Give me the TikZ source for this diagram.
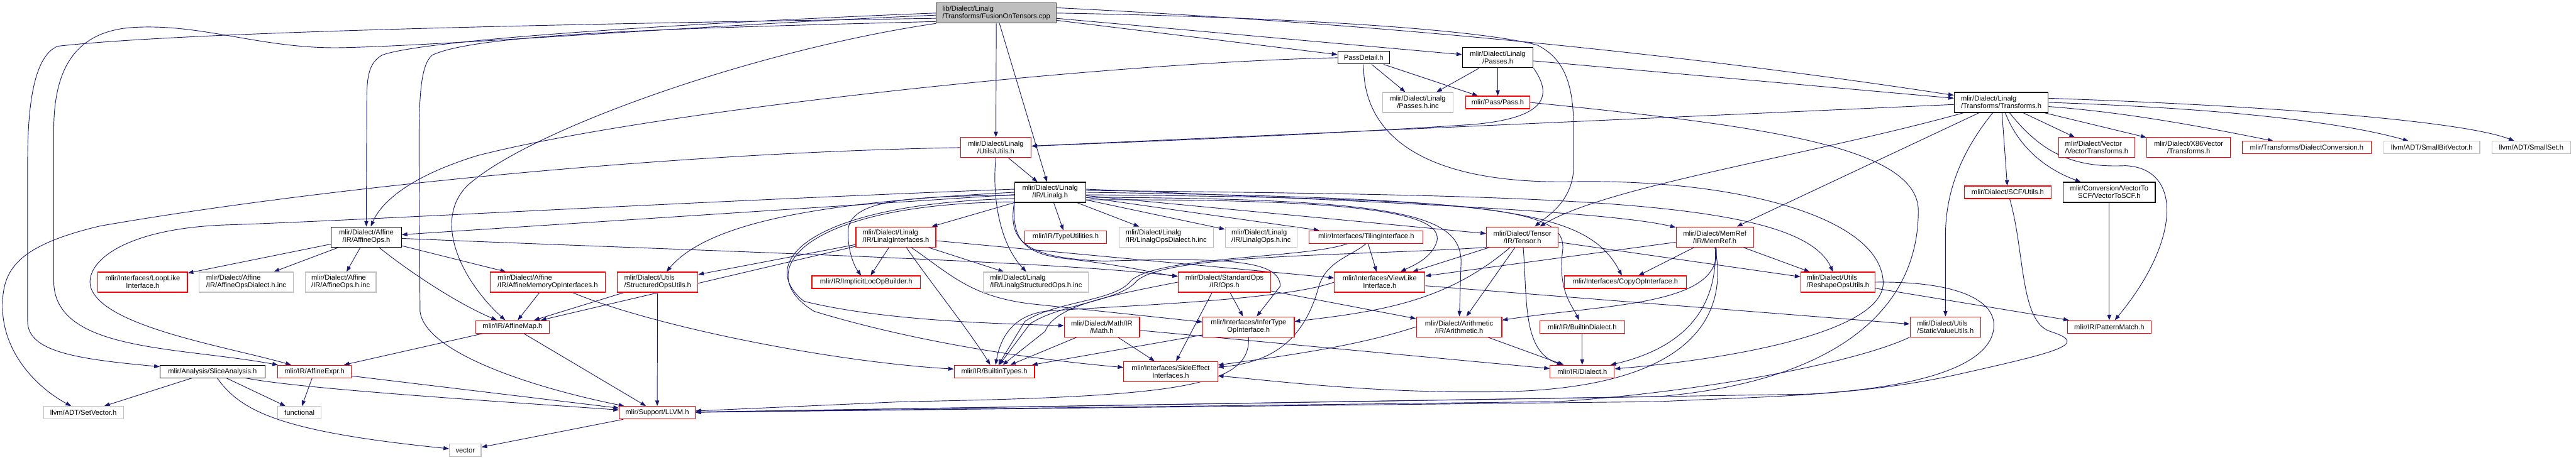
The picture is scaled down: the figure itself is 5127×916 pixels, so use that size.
\documentclass[tikz,border=0pt]{standalone}
\usepackage{fontspec}
\setmainfont{Liberation Sans}
\usetikzlibrary{arrows.meta}

\definecolor{edgeblue}{RGB}{25,25,112}
\definecolor{boxgrey}{RGB}{191,191,191}
\pgfdeclarelayer{edges}
\pgfsetlayers{edges,main}

\begin{document}
\begin{tikzpicture}[
        x=1pt, y=-1pt,
        font=\fontsize{14}{15}\selectfont,
        file/.style={
            draw,
            line width=1.4pt,
            fill=white,
            inner sep=0pt,
            align=center
        },
        redfile/.style={file, draw=red},
        greyfile/.style={file, draw=boxgrey},
        blackfile/.style={file, draw=black},
        rootfile/.style={file, draw=black!75, fill=boxgrey},
        one/.style={minimum height=25pt},
        two/.style={minimum height=40pt},
        lft/.style={align=left},
        incl/.style={draw=edgeblue, line width=1.15pt, -{Triangle[length=11pt,width=8pt]}}
    ]
    \useasboundingbox (0,0) rectangle (5127,916);

    % source file
    \node[rootfile, two, lft, minimum width=239pt] (rt) at (1983,26) {lib/Dialect/Linalg\\/Transforms/FusionOnTensors.cpp};

    % pass headers
    \node[blackfile, one, minimum width=103pt] (pd) at (2714,115) {PassDetail.h};
    \node[blackfile, two, minimum width=141pt] (ps) at (2981,115) {mlir/Dialect/Linalg\\/Passes.h};
    \node[greyfile, two, minimum width=141pt] (pi) at (2822,204) {mlir/Dialect/Linalg\\/Passes.h.inc};
    \node[redfile, one, minimum width=127pt] (pa) at (2981,204) {mlir/Pass/Pass.h};
    \node[blackfile, two, lft, minimum width=187pt] (tr) at (3983,204) {mlir/Dialect/Linalg\\/Transforms/Transforms.h};

    % transforms level
    \node[redfile, two, minimum width=141pt] (lu) at (1982,294) {mlir/Dialect/Linalg\\/Utils/Utils.h};
    \node[redfile, two, lft, minimum width=151pt] (vt) at (4173,294) {mlir/Dialect/Vector\\/VectorTransforms.h};
    \node[redfile, two, minimum width=167pt] (xv) at (4356,294) {mlir/Dialect/X86Vector\\/Transforms.h};
    \node[redfile, one, minimum width=257pt] (dc) at (4591,294) {mlir/Transforms/DialectConversion.h};
    \node[greyfile, one, minimum width=191pt] (sbv) at (4840,294) {llvm/ADT/SmallBitVector.h};
    \node[greyfile, one, minimum width=156pt] (ss) at (5038,294) {llvm/ADT/SmallSet.h};

    \node[blackfile, two, minimum width=141pt] (li) at (2090,383) {mlir/Dialect/Linalg\\/IR/Linalg.h};
    \node[redfile, one, minimum width=172pt] (scf) at (3996,383) {mlir/Dialect/SCF/Utils.h};
    \node[blackfile, two, minimum width=183pt] (v2s) at (4198,383) {mlir/Conversion/VectorTo\\SCF/VectorToSCF.h};

    % dialect level
    \node[blackfile, two, minimum width=140pt] (ao) at (729,472) {mlir/Dialect/Affine\\/IR/AffineOps.h};
    \node[redfile, two, lft, minimum width=159pt] (lif) at (1783,472) {mlir/Dialect/Linalg\\/IR/LinalgInterfaces.h};
    \node[redfile, one, minimum width=162pt] (tu) at (2121,472) {mlir/IR/TypeUtilities.h};
    \node[greyfile, two, lft, minimum width=188pt] (lodi) at (2321,472) {mlir/Dialect/Linalg\\/IR/LinalgOpsDialect.h.inc};
    \node[greyfile, two, lft, minimum width=143pt] (loi) at (2510,472) {mlir/Dialect/Linalg\\/IR/LinalgOps.h.inc};
    \node[redfile, one, minimum width=227pt] (ti) at (2719,472) {mlir/Interfaces/TilingInterface.h};
    \node[redfile, two, minimum width=143pt] (te) at (3030,472) {mlir/Dialect/Tensor\\/IR/Tensor.h};
    \node[redfile, two, minimum width=154pt] (mr) at (3413,472) {mlir/Dialect/MemRef\\/IR/MemRef.h};

    \node[redfile, two, minimum width=178pt] (ll) at (284,562) {mlir/Interfaces/LoopLike\\Interface.h};
    \node[greyfile, two, lft, minimum width=187pt] (aodi) at (490,562) {mlir/Dialect/Affine\\/IR/AffineOpsDialect.h.inc};
    \node[greyfile, two, lft, minimum width=141pt] (aoi) at (678,562) {mlir/Dialect/Affine\\/IR/AffineOps.h.inc};
    \node[redfile, two, lft, minimum width=229pt] (amoi) at (1090,562) {mlir/Dialect/Affine\\/IR/AffineMemoryOpInterfaces.h};
    \node[redfile, two, lft, minimum width=160pt] (sou) at (1309,562) {mlir/Dialect/Utils\\/StructuredOpsUtils.h};
    \node[redfile, one, minimum width=216pt] (ie) at (1724,562) {mlir/IR/ImplicitLocOpBuilder.h};
    \node[greyfile, two, lft, minimum width=209pt] (lsi) at (2062,562) {mlir/Dialect/Linalg\\/IR/LinalgStructuredOps.h.inc};
    \node[redfile, two, minimum width=184pt] (so) at (2437,562) {mlir/Dialect/StandardOps\\/IR/Ops.h};
    \node[redfile, two, minimum width=180pt] (vl) at (2746,562) {mlir/Interfaces/ViewLike\\Interface.h};
    \node[redfile, one, minimum width=243pt] (co) at (3235,562) {mlir/Interfaces/CopyOpInterface.h};
    \node[redfile, two, lft, minimum width=148pt] (rs) at (3658,562) {mlir/Dialect/Utils\\/ReshapeOpsUtils.h};

    % IR level
    \node[redfile, one, minimum width=146pt] (am) at (1020,651) {mlir/IR/AffineMap.h};
    \node[redfile, two, minimum width=150pt] (mt) at (2193,651) {mlir/Dialect/Math/IR\\/Math.h};
    \node[redfile, two, minimum width=182pt] (it) at (2485,651) {mlir/Interfaces/InferType\\OpInterface.h};
    \node[redfile, two, minimum width=170pt] (ar) at (2904,651) {mlir/Dialect/Arithmetic\\/IR/Arithmetic.h};
    \node[redfile, one, minimum width=169pt] (bd) at (3149,651) {mlir/IR/BuiltinDialect.h};
    \node[redfile, two, lft, minimum width=141pt] (sv) at (3872,651) {mlir/Dialect/Utils\\/StaticValueUtils.h};
    \node[redfile, one, minimum width=167pt] (pm) at (4198,651) {mlir/IR/PatternMatch.h};

    \node[blackfile, one, minimum width=209pt] (sa) at (423,740) {mlir/Analysis/SliceAnalysis.h};
    \node[redfile, one, minimum width=147pt] (ae) at (626,740) {mlir/IR/AffineExpr.h};
    \node[redfile, one, minimum width=160pt] (bt) at (1979,740) {mlir/IR/BuiltinTypes.h};
    \node[redfile, two, minimum width=187pt] (se) at (2330,740) {mlir/Interfaces/SideEffect\\Interfaces.h};
    \node[redfile, one, minimum width=128pt] (dl) at (3149,740) {mlir/IR/Dialect.h};

    % leaves
    \node[greyfile, one, minimum width=159pt] (svec) at (166,822) {llvm/ADT/SetVector.h};
    \node[greyfile, one, minimum width=86pt] (fn) at (596,822) {functional};
    \node[redfile, one, minimum width=151pt] (lv) at (1308,822) {mlir/Support/LLVM.h};
    \node[greyfile, one, minimum width=63pt] (vec) at (926,897) {vector};

    \begin{pgfonlayer}{edges}
    % FusionOnTensors.cpp
    \draw[incl] (rt) -- (pd);
    \draw[incl] (rt) -- (ps);
    \draw[incl] (rt.5) .. controls (2700,45) and (3300,100) .. (tr);
    \draw[incl] (rt.east) .. controls (2600,35) and (2950,60) .. (3060,90)
        .. controls (3120,120) and (3132,180) .. (3132,260) -- (3132,330)
        .. controls (3132,400) and (3080,430) .. (te);
    \draw[incl] (rt) -- (lu);
    \draw[incl] (rt) -- (li);
    \draw[incl] (rt.west) .. controls (1500,40) and (850,75) .. (760,110)
        .. controls (735,125) and (730,150) .. (730,200) -- (ao);
    \draw[incl] (rt.182) .. controls (1400,50) and (900,90) .. (680,95)
        .. controls (520,98) and (400,45) .. (260,55)
        .. controls (140,65) and (107,150) .. (107,260) -- (107,560)
        .. controls (107,700) and (350,690) .. (ae);
    \draw[incl] (rt.185) .. controls (1300,45) and (400,60) .. (115,92)
        .. controls (70,110) and (55,200) .. (55,320) -- (55,640)
        .. controls (55,700) and (150,715) .. (sa);
    \draw[incl] (rt.south west) .. controls (1500,100) and (1050,260) .. (930,370)
        .. controls (860,440) and (920,560) .. (am);
    \draw[incl] (rt.188) .. controls (1400,55) and (950,65) .. (860,110)
        .. controls (836,130) and (834,200) .. (834,300) -- (836,620)
        .. controls (845,700) and (1050,770) .. (lv);

    % PassDetail.h and Passes.h
    \draw[incl] (pd) -- (pi);
    \draw[incl] (pd) -- (pa);
    \draw[incl] (pd.west) .. controls (2200,125) and (1300,220) .. (950,310)
        .. controls (820,350) and (760,400) .. (ao);
    \draw[incl] (pd.south) .. controls (2712,280) and (2850,365) .. (3120,362)
        .. controls (3450,355) and (3740,430) .. (3748,560)
        .. controls (3755,660) and (3450,715) .. (dl);
    \draw[incl] (ps) -- (pi);
    \draw[incl] (ps) -- (pa);
    \draw[incl] (ps) -- (tr);
    \draw[incl] (ps.south east) .. controls (3090,190) and (3080,235) .. (2930,248)
        .. controls (2600,270) and (2200,285) .. (lu);
    \draw[incl] (pa.east) .. controls (3500,250) and (3818,290) .. (3818,420)
        .. controls (3818,620) and (3650,760) .. (3300,790) -- (lv);

    % Transforms.h
    \draw[incl] (tr) -- (lu);
    \draw[incl] (tr) .. controls (3600,310) and (3200,370) .. (te);
    \draw[incl] (tr) -- (mr);
    \draw[incl] (tr) .. controls (3905,300) and (3872,380) .. (3872,470) -- (sv);
    \draw[incl] (tr) -- (scf);
    \draw[incl] (tr) .. controls (4020,300) and (4080,340) .. (v2s);
    \draw[incl] (tr) -- (vt);
    \draw[incl] (tr) -- (xv);
    \draw[incl] (tr.-5) .. controls (4250,225) and (4420,260) .. (dc);
    \draw[incl] (tr.east) .. controls (4400,215) and (4650,240) .. (sbv);
    \draw[incl] (tr.5) .. controls (4500,210) and (4900,240) .. (ss);
    \draw[incl] (tr) .. controls (4060,300) and (4120,335) .. (4230,330)
        .. controls (4345,335) and (4340,480) .. (pm);

    % Utils.h
    \draw[incl] (lu) -- (li);
    \draw[incl] (lu.west) .. controls (1300,305) and (600,380) .. (200,450)
        .. controls (30,490) and (5,540) .. (5,610)
        .. controls (5,700) and (70,770) .. (svec);
    \draw[incl] (lu.south) .. controls (1975,380) and (1985,480) .. (lsi);

    % Linalg.h
    \draw[incl] (li) -- (ao);
    \draw[incl] (li.175) .. controls (1400,400) and (700,440) .. (450,448)
        .. controls (250,455) and (170,520) .. (180,570)
        .. controls (200,650) and (450,690) .. (ae);
    \draw[incl] (li.185) .. controls (1800,390) and (1690,400) .. (1688,460)
        .. controls (1687,500) and (1700,530) .. (ie);
    \draw[incl] (li) -- (lif);
    \draw[incl] (li) -- (tu);
    \draw[incl] (li) -- (lodi);
    \draw[incl] (li) -- (loi);
    \draw[incl] (li) -- (ti);
    \draw[incl] (li) -- (te);
    \draw[incl] (li.5) .. controls (2700,400) and (3200,420) .. (mr);
    \draw[incl] (li.south west) .. controls (2015,470) and (2030,505) .. (2120,515)
        .. controls (2250,530) and (2300,545) .. (so);
    \draw[incl] (li.180) .. controls (1700,400) and (1420,430) .. (sou);
    \draw[incl] (li.190) .. controls (1620,405) and (1500,520) .. (1600,600)
        .. controls (1760,640) and (2000,645) .. (mt);
    \draw[incl] (li.195) .. controls (1600,405) and (1490,540) .. (1620,620)
        .. controls (1850,690) and (2100,720) .. (se);
    \draw[incl] (li.south west) .. controls (2005,480) and (2040,515) .. (2200,520)
        .. controls (2450,512) and (2548,520) .. (2548,570) -- (it);
    \draw[incl] (li.-12) .. controls (2750,395) and (2870,430) .. (2860,480)
        .. controls (2850,515) and (2810,530) .. (vl);
    \draw[incl] (li.-8) .. controls (2800,395) and (2905,430) .. (2908,520) -- (ar);
    \draw[incl] (li.-4) .. controls (3000,395) and (3120,420) .. (3110,500)
        .. controls (3100,580) and (3130,610) .. (bd);
    \draw[incl] (li.east) .. controls (3000,395) and (3160,420) .. (co);
    \draw[incl] (li.3) .. controls (3100,390) and (3580,395) .. (rs);

    % LinalgInterfaces.h
    \draw[incl] (lif) -- (ie);
    \draw[incl] (lif.-45) .. controls (1850,560) and (1930,660) .. (bt);
    \draw[incl] (lif) -- (lsi);
    \draw[incl] (lif) -- (vl);
    \draw[incl] (lif) .. controls (1890,545) and (1930,590) .. (2050,605) -- (it);
    \draw[incl] (lif) -- (sou);
    \draw[incl] (lif) -- (am);

    % AffineOps.h and its neighbours
    \draw[incl] (ao) -- (ll);
    \draw[incl] (ao) -- (aodi);
    \draw[incl] (ao) -- (aoi);
    \draw[incl] (ao) -- (amoi);
    \draw[incl] (ao) .. controls (800,530) and (900,600) .. (am);
    \draw[incl] (ao) .. controls (1400,500) and (2100,520) .. (so);
    \draw[incl] (amoi) -- (am);
    \draw[incl] (amoi) .. controls (1300,650) and (1650,720) .. (bt);
    \draw[incl] (sou) -- (am);
    \draw[incl] (sou) -- (lv);
    \draw[incl] (am) -- (ae);
    \draw[incl] (am) -- (lv);
    \draw[incl] (ae) -- (fn);
    \draw[incl] (ae) -- (lv);
    \draw[incl] (sa) -- (svec);
    \draw[incl] (sa) -- (fn);
    \draw[incl] (sa) .. controls (480,820) and (560,860) .. (vec);
    \draw[incl] (sa) .. controls (600,775) and (1000,800) .. (lv);
    \draw[incl] (lv) -- (vec);

    % StandardOps, Math, InferType
    \draw[incl] (so.west) .. controls (2200,590) and (2100,610) .. (2080,660) -- (bt);
    \draw[incl] (so) -- (it);
    \draw[incl] (so.220) -- (se);
    \draw[incl] (so) -- (ar);
    \draw[incl] (mt) -- (bt);
    \draw[incl] (mt) -- (se);
    \draw[incl] (mt) -- (dl);
    \draw[incl] (it) -- (bt);
    \draw[incl] (it.south) .. controls (2490,770) and (2350,790) .. (1800,800) -- (lv);

    % Tensor, MemRef, TilingInterface, ViewLike
    \draw[incl] (te) -- (vl);
    \draw[incl] (te) -- (ar);
    \draw[incl] (te) .. controls (3040,600) and (3030,700) .. (dl);
    \draw[incl] (te) .. controls (2880,600) and (2750,620) .. (it);
    \draw[incl] (te) -- (rs);
    \draw[incl] (te.south west) .. controls (2700,510) and (2320,505) .. (2262,560)
        .. controls (2230,600) and (2110,605) .. (2050,645) -- (bt);
    \draw[incl] (mr) -- (rs);
    \draw[incl] (mr) -- (co);
    \draw[incl] (mr) -- (vl);
    \draw[incl] (mr) .. controls (3430,610) and (3200,605) .. (ar);
    \draw[incl] (mr) .. controls (3420,640) and (3320,700) .. (dl);
    \draw[incl] (mr.south) .. controls (3440,620) and (3380,770) .. (3000,780)
        .. controls (2750,785) and (2550,760) .. (se);
    \draw[incl] (ti) -- (vl);
    \draw[incl] (ti.south) .. controls (2690,510) and (2640,520) .. (2625,570)
        .. controls (2600,660) and (2550,720) .. (se);
    \draw[incl] (ti) .. controls (2600,515) and (2300,510) .. (2250,560)
        .. controls (2220,600) and (2100,600) .. (2040,640) -- (bt);
    \draw[incl] (vl) -- (sv);
    \draw[incl] (vl.west) .. controls (2550,600) and (2200,610) .. (2080,620)
        .. controls (2010,630) and (1990,680) .. (bt);

    % Arithmetic, BuiltinDialect and the utils
    \draw[incl] (ar) -- (dl);
    \draw[incl] (ar.west) .. controls (2700,690) and (2550,710) .. (se);
    \draw[incl] (bd) -- (dl);
    \draw[incl] (rs) -- (pm);
    \draw[incl] (rs.east) .. controls (3900,560) and (3975,600) .. (3968,655)
        .. controls (3960,720) and (3850,770) .. (3600,785) -- (lv);
    \draw[incl] (sv.south west) .. controls (3700,720) and (3400,780) .. (3100,800) -- (lv);
    \draw[incl] (scf) .. controls (4030,500) and (4020,640) .. (4080,660)
        .. controls (4160,685) and (4100,700) .. (3900,745)
        .. controls (3700,790) and (3500,790) .. (3300,800) -- (lv);
    \draw[incl] (v2s) -- (pm);
    \end{pgfonlayer}
\end{tikzpicture}
\end{document}
